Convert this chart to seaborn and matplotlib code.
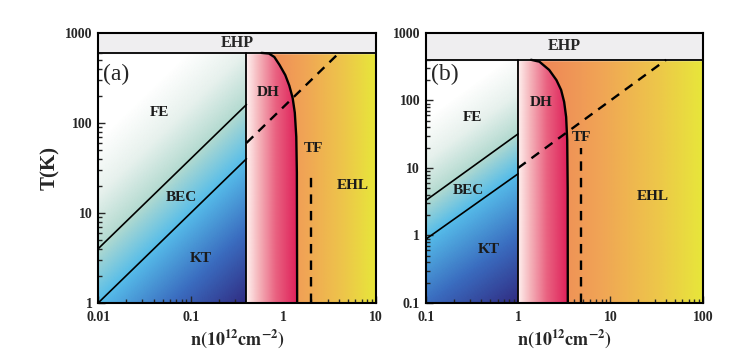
import numpy as np
import matplotlib
matplotlib.use("Agg")
import matplotlib.pyplot as plt
import seaborn as sns
from matplotlib.colors import LinearSegmentedColormap
from matplotlib.patches import Polygon
from matplotlib.ticker import FixedLocator, LogLocator, NullFormatter

# --- Panel (a) values ---
a_xlim = [0.01, 10]
a_ylim = [1, 1000]
a_xticks = [0.01, 0.1, 1, 10]
a_xticklabels = ["0.01", "0.1", "1", "10"]
a_yticks = [1, 10, 100, 1000]
a_yticklabels = ["1", "10", "100", "1000"]
a_T_ehp = 600
a_n_edge = 0.4
a_dh_n = [0.58, 0.70, 0.80, 0.91, 1.05, 1.16, 1.26, 1.33, 1.38, 1.40, 1.41]
a_dh_T = [600, 590, 540, 441, 340, 260, 190, 130, 70, 28, 1]
a_bec_n = [0.01, 0.4]
a_bec_T = [4, 160]
a_kt_n = [0.01, 0.4]
a_kt_T = [1, 40]
a_mott_n = [0.4, 4.0]
a_mott_T = [60, 600]
a_tf_n = [2, 2]
a_tf_T = [1, 28]
a_names = ["FE", "BEC", "KT", "DH", "TF", "EHL"]
a_name_n = [0.046, 0.08, 0.13, 0.68, 2.1, 5.6]
a_name_T = [129, 15, 3.1, 220, 52, 20]

# --- Panel (b) values ---
b_xlim = [0.1, 100]
b_ylim = [0.1, 1000]
b_xticks = [0.1, 1, 10, 100]
b_xticklabels = ["0.1", "1", "10", "100"]
b_yticks = [0.1, 1, 10, 100, 1000]
b_yticklabels = ["0.1", "1", "10", "100", "1000"]
b_T_ehp = 400
b_n_edge = 1.0
b_dh_n = [1.38, 1.70, 2.17, 2.60, 2.92, 3.15, 3.31, 3.40, 3.44, 3.45]
b_dh_T = [400, 375, 283, 200, 143, 95, 57, 26, 5, 0.1]
b_bec_n = [0.1, 1.0]
b_bec_T = [3.3, 32]
b_kt_n = [0.1, 1.0]
b_kt_T = [0.88, 8.2]
b_mott_n = [1.0, 40]
b_mott_T = [10, 400]
b_tf_n = [4.8, 4.8]
b_tf_T = [0.1, 20]
b_names = ["FE", "BEC", "KT", "DH", "TF", "EHL"]
b_name_n = [0.32, 0.29, 0.48, 1.78, 4.9, 29]
b_name_T = [55, 4.6, 0.63, 92, 28, 3.8]

sns.set_style("ticks")
plt.rcParams['font.family'] = ['Liberation Serif', 'DejaVu Serif']
plt.rcParams['mathtext.fontset'] = 'stix'

cmap_fe = LinearSegmentedColormap.from_list(
    "fe", [(0, "#302c82"), (0.25, "#3a6cbf"), (0.5, "#56bdea"),
           (0.72, "#b3dad0"), (0.86, "#e7f1ed"), (1, "#ffffff")])
cmap_dh = LinearSegmentedColormap.from_list(
    "dh", [(0, "#fff4f2"), (0.25, "#f5b6bc"), (0.6, "#e96180"), (1, "#df235b")])
cmap_ehl = LinearSegmentedColormap.from_list(
    "ehl", [(0, "#ee7a58"), (0.45, "#f0a555"), (0.75, "#edc64a"), (1, "#e7e73a")])


def line(ax, x, y, lw=1.2, ls='-'):
    # plain connected line, no aggregation over repeated x
    sns.lineplot(x=x, y=y, ax=ax, color='k', lw=lw, linestyle=ls,
                 sort=False, estimator=None, errorbar=None, zorder=4)


def draw_panel(ax, xlim, ylim, T_ehp, n_edge, dh_n, dh_T, bec, kt, mott, tf,
               names, name_n, name_T, xticks, xticklabels, yticks, yticklabels, tag):
    ax.set_xscale('log')
    ax.set_yscale('log')

    # free-exciton side: diagonal gradient along log T - log n
    n = np.logspace(np.log10(xlim[0]), np.log10(n_edge), 200)
    T = np.logspace(np.log10(ylim[0]), np.log10(T_ehp), 200)
    N, TT = np.meshgrid(n, T)
    v = np.log10(TT) - np.log10(N)
    v_min = np.log10(ylim[0]) - np.log10(n_edge)
    v_lo = np.log10(kt[1][0]) - np.log10(kt[0][0])
    v_hi = np.log10(bec[1][0]) - np.log10(bec[0][0])
    s = np.interp(v, [v_min, v_lo, v_hi, v_hi + 1.2], [0, 0.5, 0.72, 1])
    ax.pcolormesh(n, T, s, cmap=cmap_fe, vmin=0, vmax=1, shading='gouraud', zorder=0)

    # plasma / liquid side: horizontal gradient
    n = np.logspace(np.log10(n_edge), np.log10(xlim[1]), 200)
    f = (np.log10(n) - np.log10(n_edge)) / (np.log10(xlim[1]) - np.log10(n_edge))
    s = np.tile(f, (len(T), 1))
    ax.pcolormesh(n, T, s, cmap=cmap_ehl, vmin=0, vmax=1, shading='gouraud', zorder=0)

    # degenerate hole region, clipped to the DH boundary
    n = np.logspace(np.log10(n_edge), np.log10(max(dh_n)), 200)
    f = (np.log10(n) - np.log10(n_edge)) / (np.log10(max(dh_n)) - np.log10(n_edge))
    s = np.tile(f, (len(T), 1))
    mesh = ax.pcolormesh(n, T, s, cmap=cmap_dh, vmin=0, vmax=1, shading='gouraud', zorder=1)
    verts = [(n_edge, ylim[0]), (n_edge, T_ehp)] + list(zip(dh_n, dh_T))
    clip = Polygon(verts, closed=True, transform=ax.transData)
    mesh.set_clip_path(clip)

    # EHP band
    ax.axhspan(T_ehp, ylim[1], color="#efeef0", zorder=2)
    ax.axhline(T_ehp, color='k', lw=1.3, zorder=4)
    ax.text(np.sqrt(xlim[0] * xlim[1]), np.sqrt(T_ehp * ylim[1]), "EHP",
            ha='center', va='center', fontsize=11.5, fontweight='bold', zorder=5)

    # boundaries
    line(ax, [n_edge, n_edge], [ylim[0], T_ehp], lw=1.3)
    line(ax, bec[0], bec[1])
    line(ax, kt[0], kt[1])
    line(ax, dh_n, dh_T, lw=1.7)
    line(ax, mott[0], mott[1], lw=1.7, ls=(0, (4, 3)))
    line(ax, tf[0], tf[1], lw=1.7, ls=(0, (4, 3)))

    for name, xn, yt in zip(names, name_n, name_T):
        ax.text(xn, yt, name, ha='center', va='center', fontsize=11,
                fontweight='bold', color='#1a1a1a', zorder=5)
    ax.text(0.018, 0.845, tag, transform=ax.transAxes, ha='left', va='center',
            fontsize=17, zorder=5)

    ax.set_xlim(xlim)
    ax.set_ylim(ylim)
    ax.xaxis.set_major_locator(FixedLocator(xticks))
    ax.yaxis.set_major_locator(FixedLocator(yticks))
    ax.xaxis.set_minor_locator(LogLocator(base=10, subs=np.arange(2, 10)))
    ax.yaxis.set_minor_locator(LogLocator(base=10, subs=np.arange(2, 10)))
    ax.xaxis.set_minor_formatter(NullFormatter())
    ax.yaxis.set_minor_formatter(NullFormatter())
    ax.set_xticklabels(xticklabels, fontsize=10, fontweight='bold')
    ax.set_yticklabels(yticklabels, fontsize=10, fontweight='bold')
    ax.tick_params(which='both', direction='in', top=False, right=False, width=1)
    ax.tick_params(axis='x', pad=6)
    ax.tick_params(axis='y', pad=4)
    ax.tick_params(which='major', length=5)
    ax.tick_params(which='minor', length=3)
    for sp in ax.spines.values():
        sp.set_linewidth(1.5)
        sp.set_color('k')
        sp.set_zorder(6)
    ax.set_xlabel(r"$\mathbf{n(10^{12}cm^{-2})}$", fontsize=13)
    ax.xaxis.set_label_coords(0.5, -0.09)


fig = plt.figure(figsize=(7.43, 3.54), dpi=100)
ax_a = fig.add_axes([0.132, 0.144, 0.374, 0.763])
ax_b = fig.add_axes([0.573, 0.144, 0.373, 0.763])

draw_panel(ax_a, a_xlim, a_ylim, a_T_ehp, a_n_edge, a_dh_n, a_dh_T,
           (a_bec_n, a_bec_T), (a_kt_n, a_kt_T), (a_mott_n, a_mott_T), (a_tf_n, a_tf_T),
           a_names, a_name_n, a_name_T, a_xticks, a_xticklabels, a_yticks, a_yticklabels, "(a)")
draw_panel(ax_b, b_xlim, b_ylim, b_T_ehp, b_n_edge, b_dh_n, b_dh_T,
           (b_bec_n, b_bec_T), (b_kt_n, b_kt_T), (b_mott_n, b_mott_T), (b_tf_n, b_tf_T),
           b_names, b_name_n, b_name_T, b_xticks, b_xticklabels, b_yticks, b_yticklabels, "(b)")

ax_a.set_ylabel("T(K)", fontsize=15, fontweight='bold')
ax_a.yaxis.set_label_coords(-0.135, 0.5)

fig.savefig("out.png", dpi=100)
plt.close(fig)
